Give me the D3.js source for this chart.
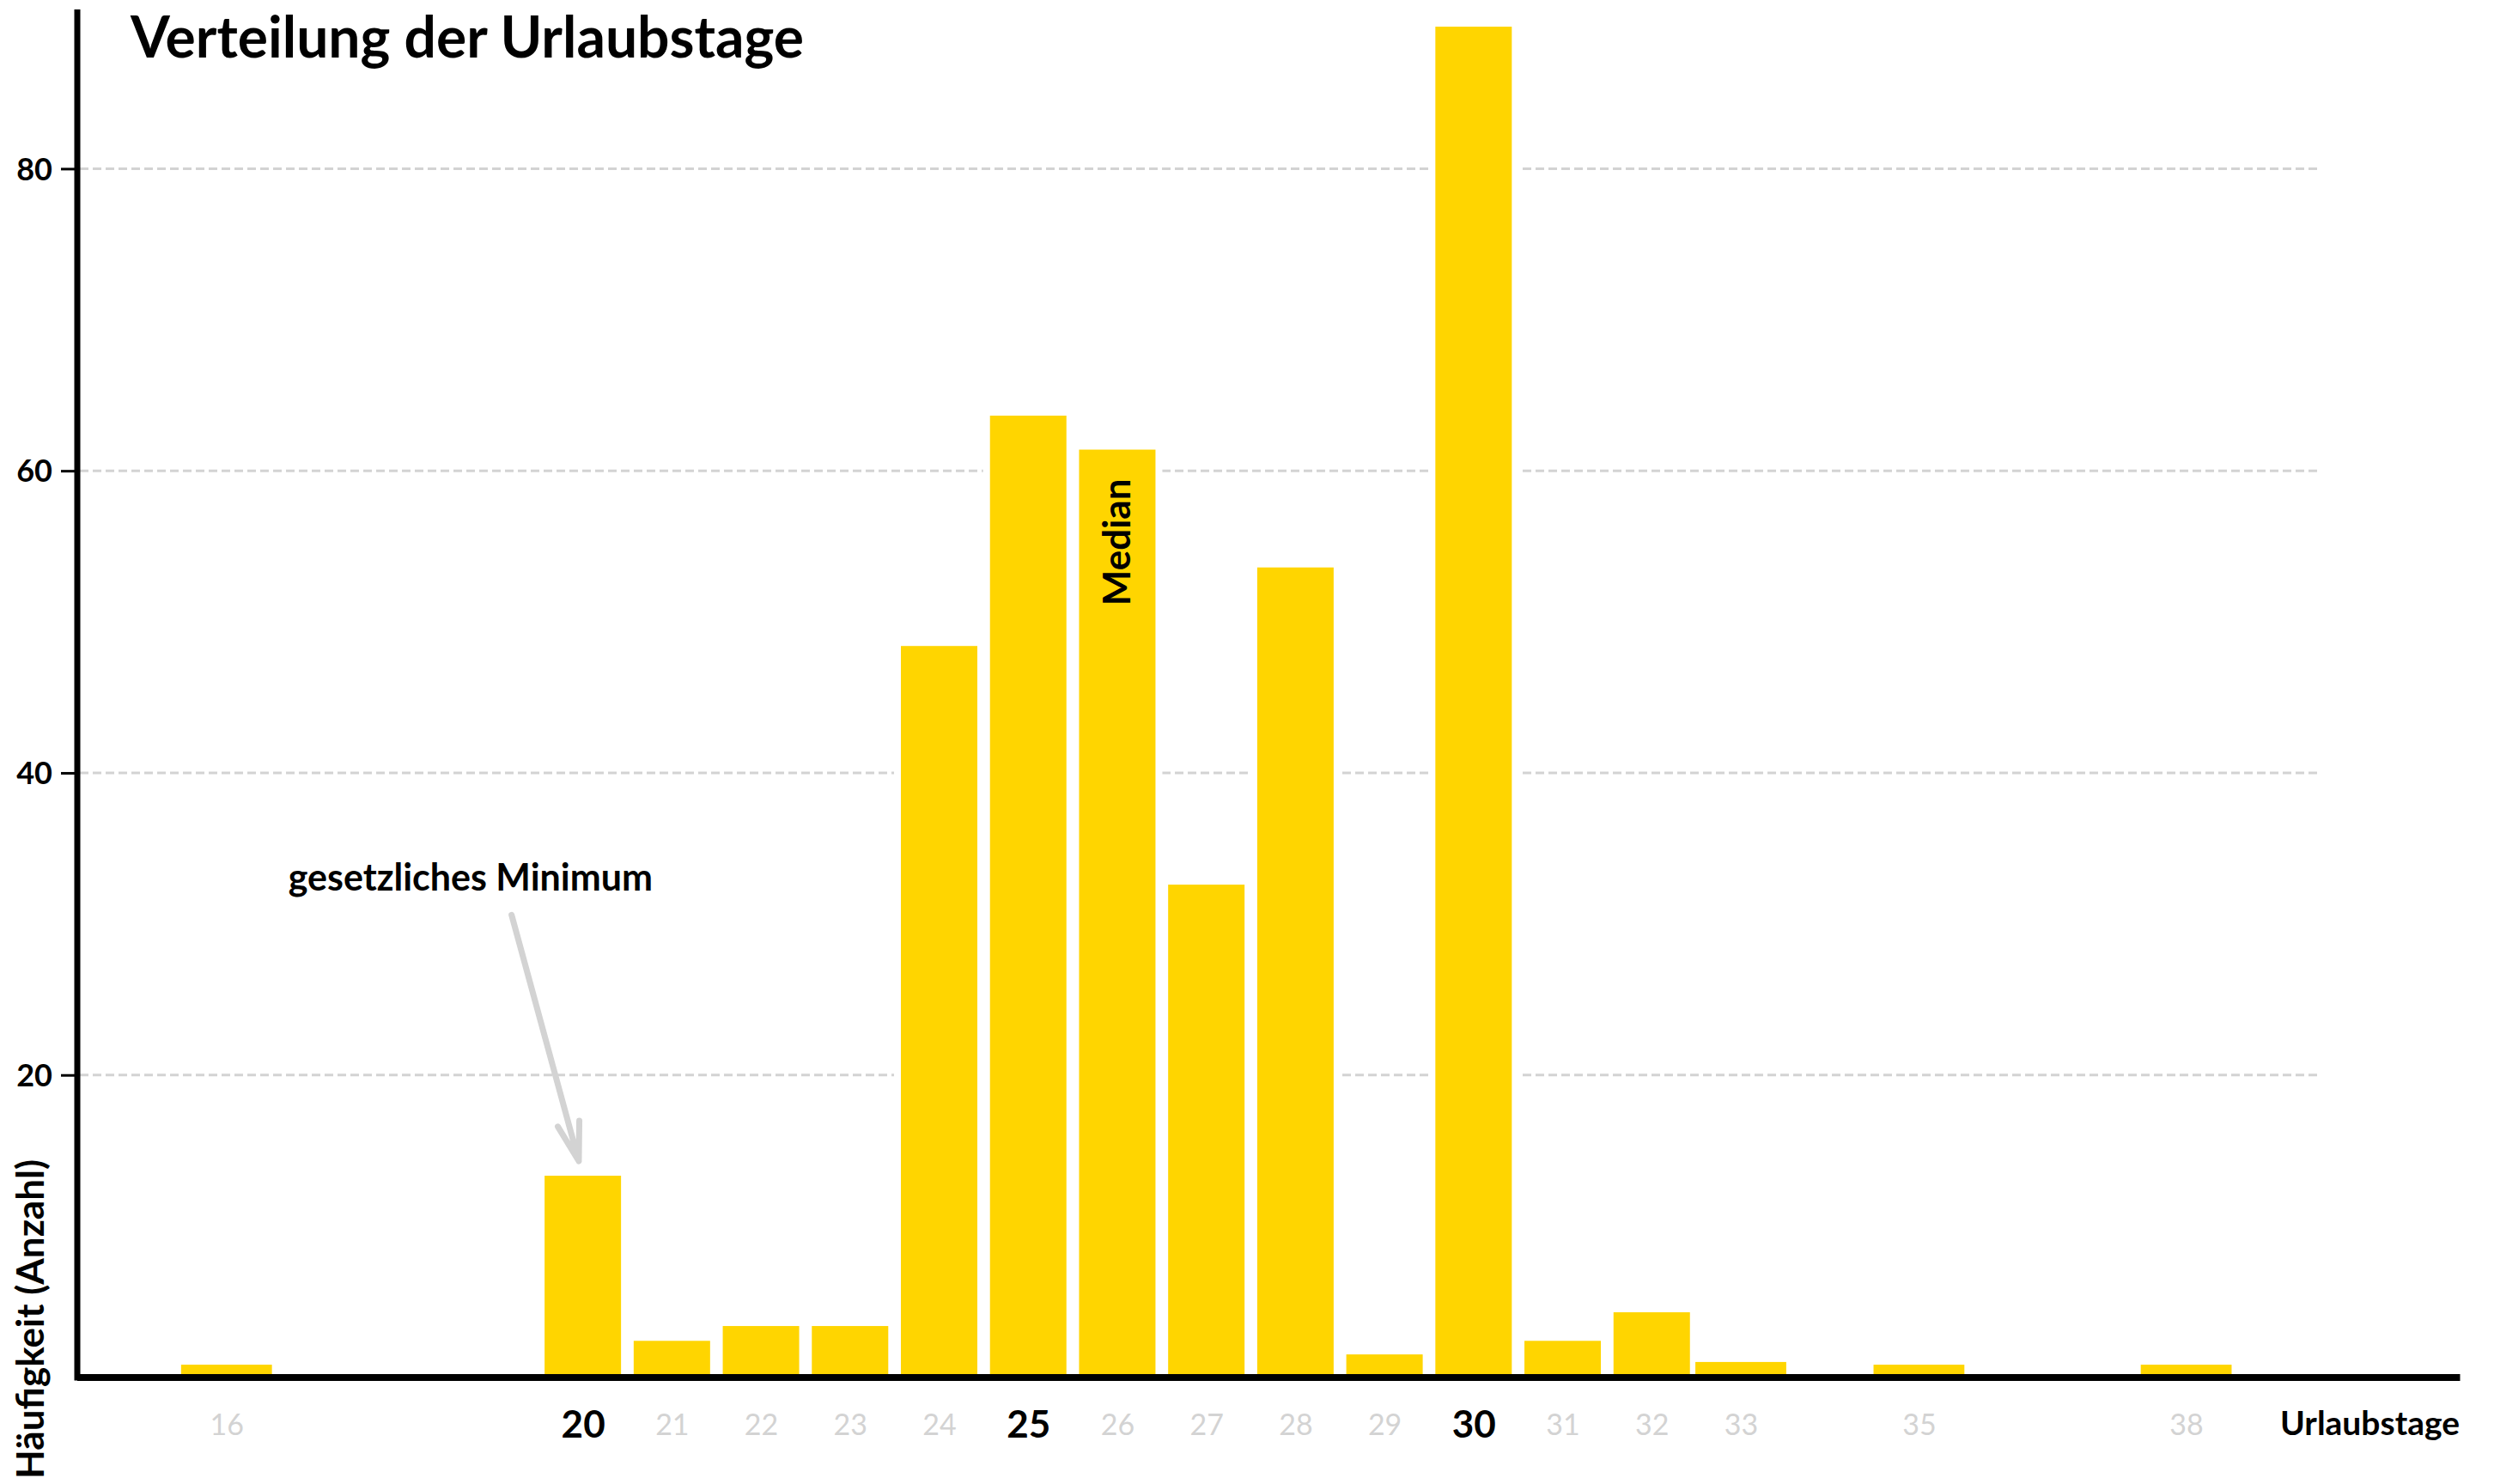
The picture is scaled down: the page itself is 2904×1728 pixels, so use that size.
<!DOCTYPE html>
<html>
<head>
<meta charset="utf-8">
<script src="https://cdn.jsdelivr.net/npm/d3@7"></script>
<style>
  html, body { margin: 0; padding: 0; background: #fff; }
  svg { display: block; }
  text { font-family: Lato, "Open Sans", "DejaVu Sans", sans-serif; }
</style>
</head>
<body>
<svg id="chart" width="2904" height="1728"></svg>
<script>
// Vacation days and how often each occurs
const days   = [16, 20, 21, 22, 23, 24, 25, 26, 27, 28, 29, 30, 31, 32, 33, 35, 38];
const counts = [0.82, 13.33, 2.40, 3.38, 3.38, 48.4, 63.65, 61.4, 32.6, 53.6, 1.5, 89.4, 2.4, 4.29, 1.0, 0.82, 0.82];
const yTicks = [20, 40, 60, 80];
const keyDays = [20, 25, 30];
const medianDay = 26;

const titleText = "Verteilung der Urlaubstage";
const xTitle = "Urlaubstage";
const yTitle = "Häufigkeit (Anzahl)";
const medianText = "Median";
const noteText = "gesetzliches Minimum";
// annotation anchors in data units: [day, count]
const noteLabelAt = [18.74, 32.2];
const noteArrowFrom = [19.2, 30.6];
const noteArrowTo = [19.955, 14.3];

const W = 2904, H = 1728;
const YELLOW = "#FFD500";
const GREY = "#d3d3d3";

const svg = d3.select("#chart");
svg.append("rect").attr("width", W).attr("height", H).attr("fill", "#fff");

const x = d3.scaleLinear().domain([14.32, 41.07]).range([89.5, 2864]);
const y = d3.scaleLinear().domain([0, 90.37]).range([1603.5, 14]);
const step = x(1) - x(0);

const data = days.map((d, i) => ({ day: d, n: counts[i] }));
// very small, isolated counts are drawn across the full day slot
const barWidth = d => d.n < 1.2 ? step * 1.02 : step * 0.858;

// dashed horizontal grid
const grid = svg.append("g");
grid.selectAll("line").data(yTicks).join("line")
  .attr("x1", 93).attr("x2", x(39.5))
  .attr("y1", d => y(d)).attr("y2", d => y(d))
  .attr("stroke", GREY).attr("stroke-width", 3)
  .attr("stroke-dasharray", "10,5");

// white halo so the grid breaks around each bar
svg.append("g").selectAll("rect").data(data).join("rect")
  .attr("x", d => x(d.day) - barWidth(d) / 2 - 8)
  .attr("width", d => barWidth(d) + 16)
  .attr("y", d => y(d.n) - 8)
  .attr("height", d => y(0) - y(d.n) + 8)
  .attr("fill", "#fff");

// bars
svg.append("g").selectAll("rect").data(data).join("rect")
  .attr("x", d => x(d.day) - barWidth(d) / 2)
  .attr("width", d => barWidth(d))
  .attr("y", d => y(d.n))
  .attr("height", d => y(0) - y(d.n) + 3.5)
  .attr("fill", YELLOW);

// y axis
const yAxis = svg.append("g").attr("transform", `translate(${x.range()[0]},0)`)
  .call(d3.axisLeft(y).tickValues(yTicks).tickSize(18.5).tickPadding(10).tickSizeOuter(0));
yAxis.select(".domain").attr("stroke", "#000").attr("stroke-width", 7).attr("stroke-linecap", "square");
yAxis.selectAll(".tick line").attr("stroke", "#000").attr("stroke-width", 3);
yAxis.selectAll(".tick text")
  .attr("font-size", 36).attr("font-weight", 700).attr("fill", "#000")
  .attr("dy", "0.35em");

// x axis
const xAxis = svg.append("g").attr("transform", `translate(0,${y(0)})`)
  .call(d3.axisBottom(x).tickValues(days).tickFormat(d3.format("d")).tickSize(0).tickSizeOuter(0));
xAxis.select(".domain").attr("stroke", "#000").attr("stroke-width", 8);
xAxis.selectAll(".tick text")
  .attr("dy", 0)
  .attr("y", d => keyDays.includes(d) ? 70 : 67.5)
  .attr("font-size", d => keyDays.includes(d) ? 44 : 34)
  .attr("font-weight", d => keyDays.includes(d) ? 700 : 400)
  .attr("fill", d => keyDays.includes(d) ? "#000" : GREY);

// axis titles
svg.append("text")
  .attr("x", x.range()[1]).attr("y", 1671)
  .attr("text-anchor", "end")
  .attr("font-size", 39).attr("font-weight", 700)
  .text(xTitle);

svg.append("text")
  .attr("transform", "translate(51,1722) rotate(-90)")
  .attr("text-anchor", "start")
  .attr("font-size", 44).attr("font-weight", 700)
  .text(yTitle);

// chart title
svg.append("text")
  .attr("x", 152).attr("y", 67)
  .attr("font-size", 66).attr("font-weight", 700)
  .text(titleText);

// median marker inside its bar
const med = data.find(d => d.day === medianDay);
svg.append("text")
  .attr("transform", `translate(${x(med.day) + 15},${y(med.n) + 34}) rotate(-90)`)
  .attr("text-anchor", "end")
  .attr("font-size", 44).attr("font-weight", 700)
  .text(medianText);

// note with arrow pointing to the statutory minimum
svg.append("text")
  .attr("x", x(noteLabelAt[0])).attr("y", y(noteLabelAt[1]))
  .attr("text-anchor", "middle")
  .attr("font-size", 43).attr("font-weight", 700)
  .text(noteText);

const ax0 = x(noteArrowFrom[0]), ay0 = y(noteArrowFrom[1]);
const ax1 = x(noteArrowTo[0]), ay1 = y(noteArrowTo[1]);
const ang = Math.atan2(ay0 - ay1, ax0 - ax1);
const wing = 47, spread = 16 * Math.PI / 180;
const arrow = d3.path();
arrow.moveTo(ax0, ay0); arrow.lineTo(ax1, ay1);
arrow.moveTo(ax1 + wing * Math.cos(ang - spread), ay1 + wing * Math.sin(ang - spread));
arrow.lineTo(ax1, ay1);
arrow.lineTo(ax1 + wing * Math.cos(ang + spread), ay1 + wing * Math.sin(ang + spread));
svg.append("path")
  .attr("d", arrow.toString())
  .attr("fill", "none").attr("stroke", GREY).attr("stroke-width", 7)
  .attr("stroke-linecap", "round").attr("stroke-linejoin", "round");
</script>
</body>
</html>
